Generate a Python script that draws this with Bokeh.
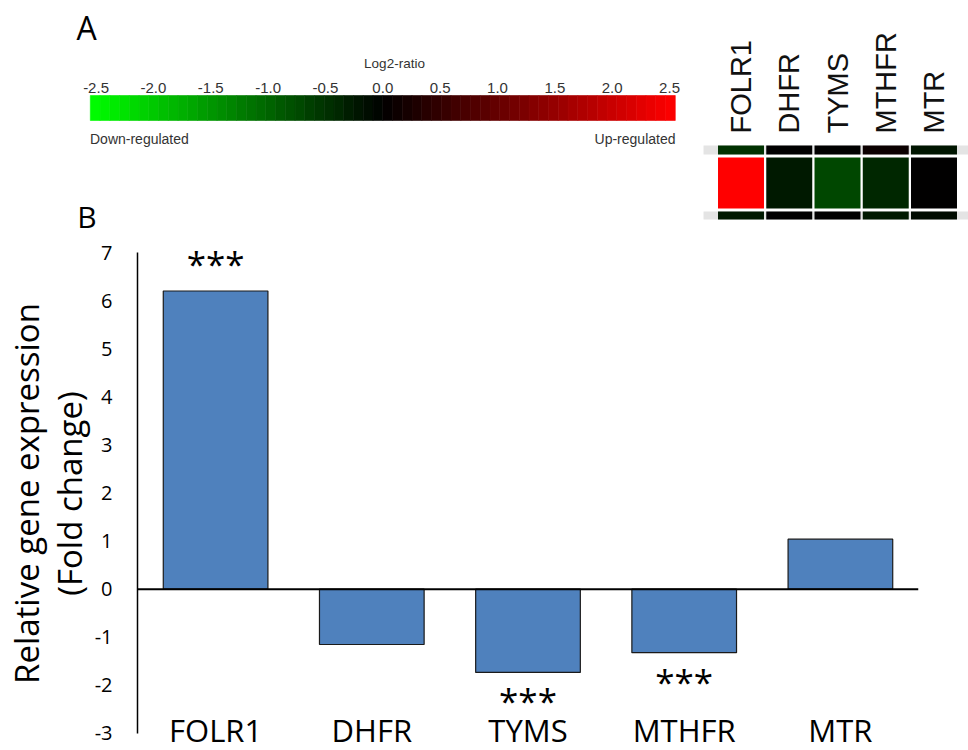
import numpy as np
from math import pi
from bokeh.plotting import figure
from bokeh.models import (Range1d, FactorRange, LinearAxis, FixedTicker, Span,
                          ColumnDataSource)
from bokeh.transform import linear_cmap
from bokeh.core.properties import value
from bokeh.embed import file_html
from bokeh.resources import INLINE

# ---------------- data ----------------
genes = ["FOLR1", "DHFR", "TYMS", "MTHFR", "MTR"]
fold_change = [6.2, -1.15, -1.73, -1.32, 1.04]
significance = ["***", "", "***", "***", ""]
y_ticks = [-3, -2, -1, 0, 1, 2, 3, 4, 5, 6, 7]

# microarray log2 ratios (heatmap rows: partial row above, gene row, partial row below)
heat_row_above = [-0.47, 0.0, 0.0, 0.1, -0.2]
heat_row_main = [2.5, -0.25, -0.69, -0.39, 0.0]
heat_row_below = [-0.25, 0.0, 0.0, -0.25, -0.1]

cbar_ticks = [-2.5, -2.0, -1.5, -1.0, -0.5, 0.0, 0.5, 1.0, 1.5, 2.0, 2.5]
cbar_labels = ["-2.5", "-2.0", "-1.5", "-1.0", "-0.5", "0.0", "0.5", "1.0", "1.5", "2.0", "2.5"]

# ---------------- styling ----------------
palette = []
for i in range(256):
    t = i / 255 * 2 - 1
    if t < 0:
        palette.append("#%02x%02x%02x" % (0, int(round(-t * 255)), 0))
    else:
        palette.append("#%02x%02x%02x" % (int(round(t * 255)), 0, 0))
LOW, HIGH = -2.5, 2.5

# ---------------- top panel: colour bar (A) + heatmap ----------------
TOP_W, TOP_H = 968, 236
PX_PER_UNIT = 114.7
ZERO_PX = 382.3


def cx(px):
    return (px - ZERO_PX) / PX_PER_UNIT


# heatmap range: gene row centred at 182.5 px, 54 px per row, 48.25 px per column
HM_ROW_PX, HM_ROW_C = 54.0, 182.5
HM_COL_PX, HM_COL_C = 48.25, 740.5
hm_x = Range1d(-HM_COL_C / HM_COL_PX, (TOP_W - HM_COL_C) / HM_COL_PX)
hm_y = Range1d(1 + (TOP_H - HM_ROW_C) / HM_ROW_PX, 1 - HM_ROW_C / HM_ROW_PX)

top = figure(width=TOP_W, height=TOP_H, output_backend="svg", toolbar_location=None,
             x_range=Range1d(cx(0), cx(TOP_W)), y_range=Range1d(TOP_H, 0),
             x_axis_location=None, y_axis_location=None, min_border=0)
top.outline_line_color = None
top.grid.visible = False
top.extra_x_ranges = {"hm_x": hm_x}
top.extra_y_ranges = {"hm_y": hm_y}

nbins = 60
edges = np.linspace(LOW, HIGH, nbins + 1)
pad = 1.02
cb_src = ColumnDataSource(dict(left=edges[:-1] * pad, right=edges[1:] * pad,
                               v=(edges[:-1] + edges[1:]) / 2))
cmap = linear_cmap("v", palette, LOW, HIGH)
top.quad(left="left", right="right", top=95, bottom=120, source=cb_src,
         fill_color=cmap, line_color=cmap, line_width=0.6)

top.text(x=cbar_ticks, y=[87.5] * len(cbar_ticks), text=cbar_labels,
         text_font=value("Liberation Sans"), text_font_size="15px", text_color="#333333",
         text_align="center", text_baseline="middle")
top.text(x=[cx(394)], y=[63], text=["Log2-ratio"], text_font=value("Liberation Sans"),
         text_font_size="13.5px", text_color="#333333", text_align="center",
         text_baseline="middle")
top.text(x=[cx(89.5)], y=[138], text=["Down-regulated"], text_font=value("Liberation Sans"),
         text_font_size="14px", text_color="#333333", text_align="left", text_baseline="middle")
top.text(x=[cx(675)], y=[138], text=["Up-regulated"], text_font=value("Liberation Sans"),
         text_font_size="14px", text_color="#333333", text_align="right", text_baseline="middle")
top.text(x=[cx(86)], y=[27], text=["A"], text_font=value("Open Sans"),
         text_font_size="32px", text_color="black", text_align="center", text_baseline="middle")
top.text(x=[cx(86.5)], y=[215.5], text=["B"], text_font=value("Open Sans"),
         text_font_size="30px", text_color="black", text_align="center", text_baseline="middle")

# heatmap (rows 0 and 2 are cropped neighbours of the gene row)
idx = list(range(len(genes)))
CROP_TOP, CROP_BOTTOM = 0.306, 1.676
CELL_H, CELL_W = 0.944, 0.953
BAND_LEFT = -0.777
rows = [0] * 5 + [1] * 5 + [2] * 5
hm_src = ColumnDataSource(dict(
    left=[i - CELL_W / 2 for i in idx * 3],
    right=[i + CELL_W / 2 for i in idx * 3],
    top=[max(r - CELL_H / 2, CROP_TOP) for r in rows],
    bottom=[min(r + CELL_H / 2, CROP_BOTTOM) for r in rows],
    v=heat_row_above + heat_row_main + heat_row_below))
top.quad(left=[BAND_LEFT, BAND_LEFT], right=[hm_x.end, hm_x.end],
         top=[CROP_TOP, 2 - CELL_H / 2], bottom=[CELL_H / 2, CROP_BOTTOM],
         fill_color="#e4e4e4", line_color=None, x_range_name="hm_x", y_range_name="hm_y")
top.quad(left="left", right="right", top="top", bottom="bottom", source=hm_src,
         fill_color=linear_cmap("v", palette, LOW, HIGH), line_color=None,
         x_range_name="hm_x", y_range_name="hm_y")
top.text(x=idx, y=[0.0833] * len(idx), text=genes, angle=pi / 2,
         text_font=value("Liberation Sans"), text_font_size="29px", text_color="#111111",
         text_align="left", text_baseline="middle", x_range_name="hm_x", y_range_name="hm_y")

# ---------------- bar chart panel (B) ----------------
BAR_W, BAR_H = 968, 514
bp = figure(width=BAR_W, height=BAR_H, output_backend="svg", toolbar_location=None,
            x_range=FactorRange(*genes, range_padding=0),
            y_range=Range1d(-3.354, 7.3333),
            x_axis_location=None, y_axis_location=None,
            min_border_left=137, min_border_right=50, min_border_top=0, min_border_bottom=0)
bp.outline_line_color = None
bp.grid.visible = False

bp.vbar(x=genes, top=fold_change, bottom=0, width=0.67,
        fill_color="#4f81bd", line_color="#1a1a1a", line_width=1.2)
bp.add_layout(Span(location=0, dimension="width", line_color="black", line_width=2))

yax = LinearAxis(bounds=(-3, 7), ticker=FixedTicker(ticks=y_ticks))
yax.major_label_overrides = {t: str(t) for t in y_ticks}
yax.axis_line_width = 1.5
yax.axis_line_color = "black"
yax.major_tick_line_color = None
yax.minor_tick_line_color = None
yax.major_label_standoff = 19
yax.major_label_text_font = "Open Sans"
yax.major_label_text_font_size = "20px"
yax.major_label_text_color = "black"
yax.axis_label = "Relative gene expression\n(Fold change)"
yax.axis_label_text_font = "Open Sans"
yax.axis_label_text_font_size = "33px"
yax.axis_label_text_font_style = "normal"
yax.axis_label_text_color = "black"
yax.axis_label_text_line_height = 0.95
yax.axis_label_standoff = 0
bp.add_layout(yax, "left")

star_y = [v + 0.57 if v > 0 else v - 0.59 for v in fold_change]
bp.text(x=genes, y=star_y, text=significance, text_font=value("Open Sans"),
        text_font_size="35px", text_color="black", text_align="center", text_baseline="middle")

bp.text(x=genes, y=[-2.92] * len(genes), text=genes, text_font=value("Open Sans"),
        text_font_size="31px", text_color="black", text_align="center", text_baseline="middle")

open("out.html", "w").write(file_html([top, bp], INLINE))
